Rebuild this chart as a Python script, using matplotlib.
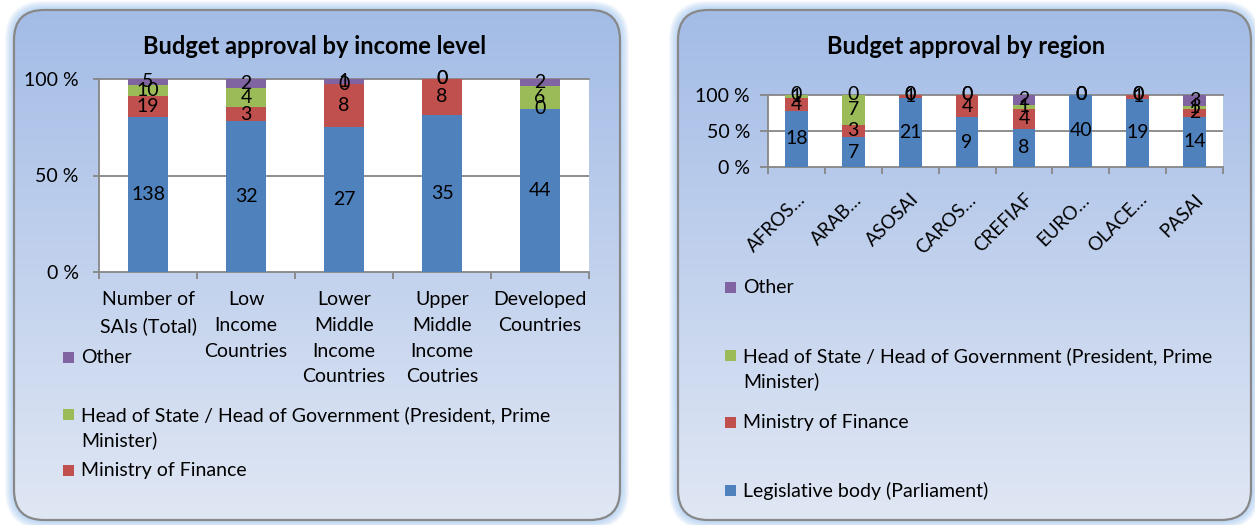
import matplotlib
matplotlib.use("Agg")
import matplotlib.pyplot as plt
import numpy as np
from matplotlib.patches import FancyBboxPatch, Rectangle
from matplotlib.colors import LinearSegmentedColormap

plt.rcParams['font.family'] = ['Lato', 'DejaVu Sans']

# series (bottom to top) and colours
series = ["Legislative body (Parliament)", "Ministry of Finance",
          "Head of State / Head of Government (President, Prime\nMinister)", "Other"]
colors = ["#4f81bd", "#c0504d", "#9bbb59", "#8064a2"]

# chart 1 - by income level
income_cats = ["Number of\nSAIs (Total)", "Low\nIncome\nCountries",
               "Lower\nMiddle\nIncome\nCountries", "Upper\nMiddle\nIncome\nCoutries",
               "Developed\nCountries"]
income_legislative = [138, 32, 27, 35, 44]
income_finance = [19, 3, 8, 8, 0]
income_head = [10, 4, 0, 0, 6]
income_other = [5, 2, 1, 0, 2]

# chart 2 - by region
region_cats = ["AFROS…", "ARAB…", "ASOSAI", "CAROS…", "CREFIAF", "EURO…", "OLACE…", "PASAI"]
region_legislative = [18, 7, 21, 9, 8, 40, 19, 14]
region_finance = [4, 3, 1, 4, 4, 0, 1, 2]
region_head = [1, 7, 0, 0, 1, 0, 0, 1]
region_other = [0, 0, 0, 0, 2, 0, 0, 3]

yticks = [0, 0.5, 1.0]
ytick_labels = ["0 %", "50 %", "100 %"]

W, H = 1255, 525
fig = plt.figure(figsize=(W / 100, H / 100), dpi=100)
GRAY = "#868686"


def px_axes(x0, y0, x1, y1, **kw):
    return fig.add_axes([x0 / W, 1 - y1 / H, (x1 - x0) / W, (y1 - y0) / H], **kw)


# panel backgrounds
bg = fig.add_axes([0, 0, 1, 1], zorder=0)
cmap = LinearSegmentedColormap.from_list("panel", ["#a3bce6", "#e0e7f4"])
grad = np.linspace(0, 1, 256)[:, None]
for x0, x1 in [(14, 620), (678, 1251)]:
    y0, y1 = 10, 520
    for i in range(9, 0, -1):
        bg.add_patch(FancyBboxPatch((x0 - i, y0 - i), x1 - x0 + 2 * i, y1 - y0 + 2 * i,
                                    boxstyle=f"round,pad=0,rounding_size={30 + i}",
                                    fc="#9cc3f0", ec="none", alpha=0.10, zorder=0))
    box = FancyBboxPatch((x0, y0), x1 - x0, y1 - y0, boxstyle="round,pad=0,rounding_size=30",
                         fc="none", ec="#888888", lw=1.6, zorder=2)
    bg.add_patch(box)
    im = bg.imshow(grad, cmap=cmap, extent=(x0, x1, y1, y0), aspect="auto", zorder=1)
    im.set_clip_path(box)
bg.set_xlim(0, W)
bg.set_ylim(H, 0)
bg.axis("off")


def stacked(ax, cats, data, bar_w, num_size, tick_len, tick_pad):
    x = np.arange(len(cats))
    totals = np.sum(np.array(data), axis=0)
    bottom = np.zeros(len(cats))
    for vals, c in zip(data, colors):
        share = np.array(vals) / totals
        ax.bar(x, share, bar_w, bottom=bottom, color=c, zorder=3)
        for xi, b, s, v in zip(x, bottom, share, vals):
            ax.text(xi, b + s / 2, str(v), ha="center", va="center", fontsize=num_size, zorder=4)
        bottom += share
    ax.set_xlim(-0.5, len(cats) - 0.5)
    ax.set_ylim(0, 1)
    ax.set_facecolor("white")
    for sp in ["top", "right"]:
        ax.spines[sp].set_visible(False)
    for sp in ["left", "bottom"]:
        ax.spines[sp].set_color(GRAY)
        ax.spines[sp].set_linewidth(1.3)
    ax.axhline(0.5, color=GRAY, lw=1.3, zorder=1)
    ax.axhline(1.0, color=GRAY, lw=1.3, zorder=1, clip_on=False)
    ax.set_yticks(yticks)
    ax.set_yticklabels(ytick_labels, fontsize=14)
    ax.tick_params(axis="y", length=tick_len, width=1.3, color=GRAY, pad=tick_pad)
    ax.set_xticks(x)
    ax.set_xticks(np.arange(len(cats) + 1) - 0.5, minor=True)
    ax.tick_params(axis="x", which="major", length=0)
    ax.tick_params(axis="x", which="minor", length=5, width=1.3, color=GRAY)


# left chart
ax1 = px_axes(99, 79, 589, 272)
stacked(ax1, income_cats, [income_legislative, income_finance, income_head, income_other],
        0.4, 14, 4.5, 10)
ax1.set_xticklabels(income_cats, fontsize=14, linespacing=1.62, va="top")
ax1.tick_params(axis="x", which="major", pad=14)
fig.text(315 / W, 1 - 47 / H, "Budget approval by income level", ha="center", va="center",
         fontsize=17, fontweight="bold")

# right chart
ax2 = px_axes(768, 95, 1223, 167)
stacked(ax2, region_cats, [region_legislative, region_finance, region_head, region_other],
        0.4, 14, 6, 7)
ax2.set_xticklabels(region_cats, fontsize=13.5, rotation=45, ha="right", va="top",
                    rotation_mode="anchor")
ax2.tick_params(axis="x", which="major", pad=17)
fig.text(966 / W, 1 - 47 / H, "Budget approval by region", ha="center", va="center",
         fontsize=17, fontweight="bold")


# legends (drawn by hand, as in the original layout)
def legend_entry(x, y, label, color):
    bg.add_patch(Rectangle((x, y - 5.5), 11, 11, fc=color, ec="none", zorder=5))
    bg.text(x + 18, y - 8, label, ha="left", va="top", fontsize=14, linespacing=1.5, zorder=5)


left_rows = [357, 414, 470]
for y, name, c in zip(left_rows, series[::-1], colors[::-1]):
    legend_entry(63, y, name, c)

right_rows = [287, 355, 422, 490]
for y, name, c in zip(right_rows, series[::-1], colors[::-1]):
    legend_entry(725, y, name, c)

fig.savefig("out.png", dpi=100)
